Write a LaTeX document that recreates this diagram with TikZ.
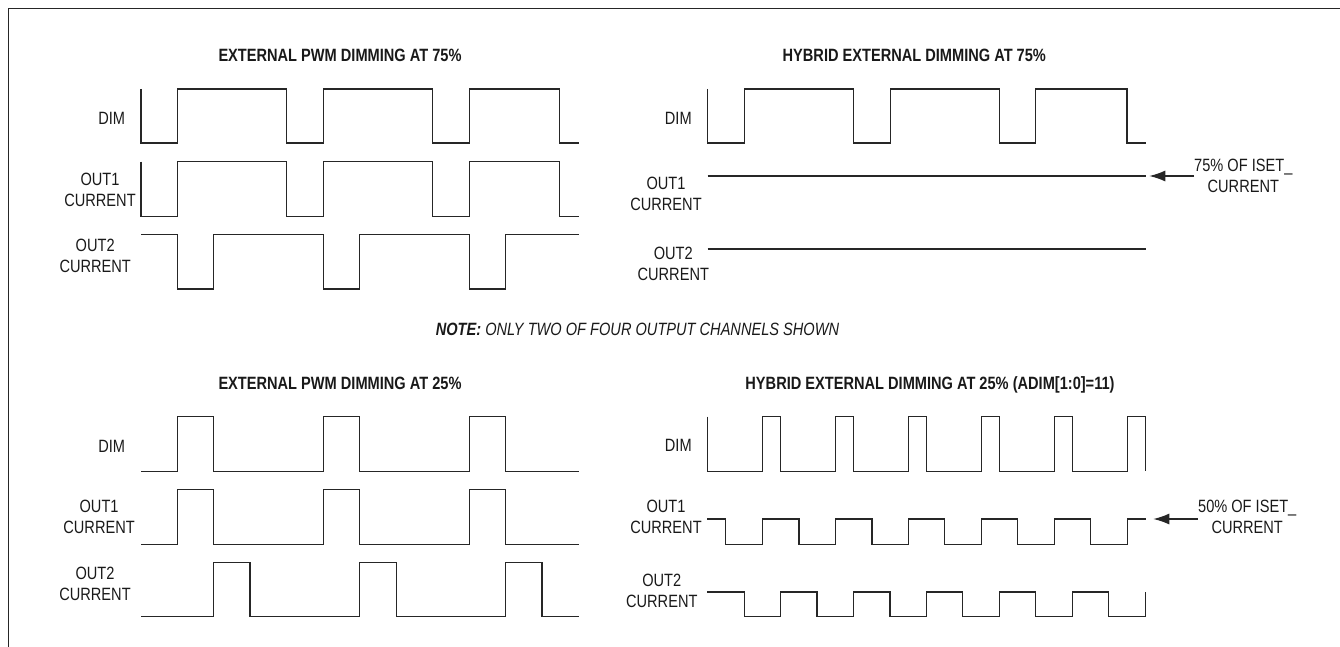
\documentclass[tikz,border=0pt]{standalone}
\usepackage{fontspec}
\setmainfont{Liberation Sans}[FakeStretch=0.82]
\usetikzlibrary{arrows.meta}
\begin{document}
\begin{tikzpicture}[x=1pt,y=-1pt,
  wave/.style={line width=1.2pt, line join=miter, draw=black!85},
  lbl/.style={font=\fontsize{17.8}{21}\selectfont, align=center, inner sep=0pt, text=black!90},
  ttl/.style={font=\fontsize{17.8}{21}\selectfont\bfseries, anchor=base, inner sep=0pt, text=black!90},
  arr/.style={line width=1.2pt, draw=black!85, -{Latex[length=16pt,width=11pt]}},
  frm/.style={line width=1.3pt, draw=black!85}]
\useasboundingbox (0,0) rectangle (1340,647);
% frame
\draw[frm] (8.5,647) -- (8.5,8.5) -- (1340,8.5);

% titles
\node[ttl] (t1) at (340,61.4) {EXTERNAL PWM DIMMING AT 75\%};
\node[ttl] (t2) at (914.3,61.4) {HYBRID EXTERNAL DIMMING AT 75\%};
\node[ttl] (t3) at (340,389.7) {EXTERNAL PWM DIMMING AT 25\%};
\node[ttl] (t4) at (930,389.5) {HYBRID EXTERNAL DIMMING AT 25\% (ADIM[1:0]=11)};

% note
\node[lbl, anchor=base] (note) at (637.5,335) {\textbf{\textit{NOTE:}} \textit{ONLY TWO OF FOUR OUTPUT CHANNELS SHOWN}};

% signal labels
\node[lbl, anchor=base] (d1) at (111.7,125) {DIM};
\node[lbl] (o1a) at (100,190) {OUT1\\CURRENT};
\node[lbl] (o2a) at (95.2,256.2) {OUT2\\CURRENT};
\node[lbl, anchor=base] (d2) at (678.3,125) {DIM};
\node[lbl] (o1b) at (666,194) {OUT1\\CURRENT};
\node[lbl] (o2b) at (673.3,263.8) {OUT2\\CURRENT};
\node[lbl, anchor=base] (d3) at (111.7,452.5) {DIM};
\node[lbl] (o1c) at (99.1,516.5) {OUT1\\CURRENT};
\node[lbl] (o2c) at (95,584.2) {OUT2\\CURRENT};
\node[lbl, anchor=base] (d4) at (678.3,451.5) {DIM};
\node[lbl] (o1d) at (666,516.5) {OUT1\\CURRENT};
\node[lbl] (o2d) at (661.8,591.2) {OUT2\\CURRENT};

% top-left: external PWM 75%
\draw[wave] (141,89) -- (141,143) -- (177.4,143) -- (177.4,89) -- (286.8,89) -- (286.8,143) -- (323.5,143) -- (323.5,89) -- (432.5,89) -- (432.5,143) -- (469.2,143) -- (469.2,89) -- (559.8,89) -- (559.8,143) -- (579.1,143);
\draw[wave] (141,161.7) -- (141,216.3) -- (177.4,216.3) -- (177.4,161.7) -- (286.8,161.7) -- (286.8,216.3) -- (323.5,216.3) -- (323.5,161.7) -- (432.5,161.7) -- (432.5,216.3) -- (469.2,216.3) -- (469.2,161.7) -- (559.8,161.7) -- (559.8,216.3) -- (579.1,216.3);
\draw[wave] (141,234.7) -- (177.4,234.7) -- (177.4,289) -- (213.7,289) -- (213.7,234.7) -- (323.5,234.7) -- (323.5,289) -- (359.8,289) -- (359.8,234.7) -- (469.2,234.7) -- (469.2,289) -- (505.6,289) -- (505.6,234.7) -- (579.1,234.7);

% top-right: hybrid 75%
\draw[wave] (707.5,89) -- (707.5,143) -- (744.5,143) -- (744.5,89) -- (853.5,89) -- (853.5,143) -- (890.3,143) -- (890.3,89) -- (999.3,89) -- (999.3,143) -- (1035.8,143) -- (1035.8,89) -- (1127,89) -- (1127,143) -- (1145.6,143);
\draw[wave] (707.5,176) -- (1145.6,176);
\draw[wave] (707.5,249) -- (1145.6,249);
\node[lbl] (n75) at (1243.3,176.2) {75\% OF ISET\_\\CURRENT};
\coordinate (tip75) at (1149.3,176);
\draw[arr] (n75.west |- tip75) -- (tip75);

% bottom-left: external PWM 25%
\draw[wave] (141,471.3) -- (177.4,471.3) -- (177.4,416.7) -- (213.7,416.7) -- (213.7,471.3) -- (323.5,471.3) -- (323.5,416.7) -- (359.8,416.7) -- (359.8,471.3) -- (469.2,471.3) -- (469.2,416.7) -- (505.6,416.7) -- (505.6,471.3) -- (579.1,471.3);
\draw[wave] (141,544.3) -- (177.4,544.3) -- (177.4,489.7) -- (213.7,489.7) -- (213.7,544.3) -- (323.5,544.3) -- (323.5,489.7) -- (359.8,489.7) -- (359.8,544.3) -- (469.2,544.3) -- (469.2,489.7) -- (505.6,489.7) -- (505.6,544.3) -- (579.1,544.3);
\draw[wave] (141,616.7) -- (213.7,616.7) -- (213.7,562.3) -- (250,562.3) -- (250,616.7) -- (359.8,616.7) -- (359.8,562.3) -- (396.2,562.3) -- (396.2,616.7) -- (505.6,616.7) -- (505.6,562.3) -- (541.9,562.3) -- (541.9,616.7) -- (579.1,616.7);

% bottom-right: hybrid 25%
\draw[wave] (707.5,416.7) -- (707.5,471.3)
  \foreach \k in {0,...,5} { -- ({762.7+72.9*\k},471.3) -- ({762.7+72.9*\k},416.7) -- ({780.7+72.9*\k},416.7) -- ({780.7+72.9*\k},471.3) };
\draw[wave] (707.3,519) -- (725.8,519) -- (725.8,544.3)
  \foreach \k in {0,...,4} { -- ({762.7+72.9*\k},544.3) -- ({762.7+72.9*\k},519) -- ({799+72.9*\k},519) -- ({799+72.9*\k},544.3) }
  -- (1127.2,544.3) -- (1127.2,519) -- (1145.6,519);
\draw[wave] (707.3,592) -- (744.2,592) -- (744.2,616.7)
  \foreach \k in {0,...,4} { -- ({780.7+72.9*\k},616.7) -- ({780.7+72.9*\k},592) -- ({817+72.9*\k},592) -- ({817+72.9*\k},616.7) }
  -- (1145.2,616.7) -- (1145.2,592);
\node[lbl] (n50) at (1247.2,517.2) {50\% OF ISET\_\\CURRENT};
\coordinate (tip50) at (1153.3,519);
\draw[arr] (n50.west |- tip50) -- (tip50);
\end{tikzpicture}
\end{document}
